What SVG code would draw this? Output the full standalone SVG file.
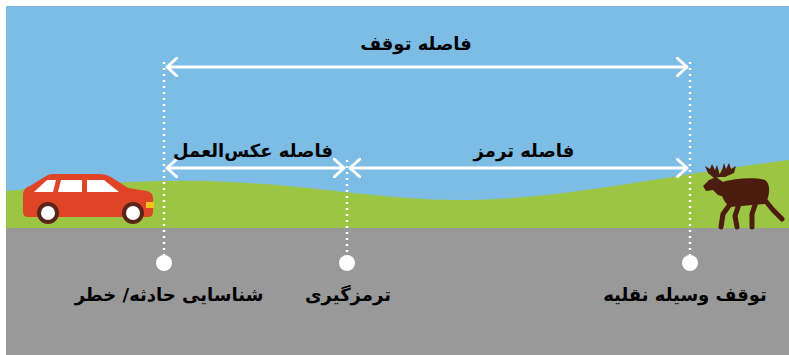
<svg xmlns="http://www.w3.org/2000/svg" width="789" height="355" viewBox="0 0 789 355">
  <style>
    .lbl { font-family: "DejaVu Sans", "Noto Sans", sans-serif; font-weight: bold; font-size: 18px; fill: #000; text-anchor: middle; }
    .dim { stroke: #ffffff; stroke-width: 3; fill: none; stroke-linecap: round; stroke-linejoin: round; }
    .dots { stroke: #ffffff; stroke-width: 2.5; stroke-dasharray: 2 4; fill: none; }
    .mark { fill: #ffffff; }
  </style>
  <defs>
    <marker id="head" viewBox="0 0 12 20" refX="11" refY="10" markerWidth="12" markerHeight="20" markerUnits="userSpaceOnUse" orient="auto-start-reverse">
      <path d="M1,1 L11,10 L1,19" fill="none" stroke="#ffffff" stroke-width="3" stroke-linecap="round" stroke-linejoin="round"/>
    </marker>
  </defs>

  <!-- scene: sky, grass, road -->
  <g id="scene">
    <rect x="6" y="6" width="783" height="349" fill="#7dbce4"/>
    <path d="M6,191 C80,185 150,178 230,182 C320,186 380,200 460,200 C560,200 650,178 789,160 L789,230 L6,230 Z" fill="#9dc544"/>
    <rect x="6" y="228" width="783" height="127" fill="#999999"/>
  </g>

  <!-- car -->
  <g id="car">
    <path d="M23,195 Q23,188 30,186 L46,176 Q49,174 53,174 L100,174 Q106,174 111,177 L128,188 L147,191 Q153,192 153,199 L153,212 Q153,217 148,217 L28,217 Q23,217 23,212 Z" fill="#e04427"/>
    <path d="M34,192 L47,180 L56,180 L53,192 Z" fill="#ffffff"/>
    <path d="M58,192 L61,180 L82,180 L82,192 Z" fill="#ffffff"/>
    <path d="M87,192 L87,180 L104,180 L119,192 Z" fill="#ffffff"/>
    <rect x="146" y="202" width="8" height="6" fill="#f7c21b"/>
    <circle cx="48" cy="213" r="11" fill="#5a2418"/>
    <circle cx="48" cy="213" r="7" fill="#ffffff"/>
    <circle cx="133" cy="213" r="11" fill="#5a2418"/>
    <circle cx="133" cy="213" r="7" fill="#ffffff"/>
  </g>

  <!-- moose -->
  <g id="moose" fill="#4b1d10" stroke="#4b1d10" stroke-linecap="round" stroke-linejoin="round">
    <path d="M722,182 C735,178 755,177 765,180 C771,184 770,196 765,204 L730,207 C723,202 719,192 722,182 Z" stroke="none"/>
    <path d="M723,182 L716,177 L709,180 L703,186 L706,191 L713,190 L718,195 L728,198 Z" stroke="none"/>
    <path d="M714,178 L708,173 L705,166 L710,169 L712,164 L715,170 L717,165 L719,172 L720,177 Z" stroke="none"/>
    <path d="M718,177 L722,170 L724,163 L726,169 L729,163 L731,169 L736,166 L734,173 L725,177 Z" stroke="none"/>
    <path d="M731,203 L723,214 L721,227" fill="none" stroke-width="5"/>
    <path d="M739,204 L735,216 L737,227" fill="none" stroke-width="5"/>
    <path d="M756,202 L752,214 L752,227" fill="none" stroke-width="5"/>
    <path d="M764,199 L773,210 L782,219" fill="none" stroke-width="5"/>
  </g>

  <!-- connectors: dotted guides and dimension arrows -->
  <g id="connectors">
    <line class="dots" x1="164" y1="62" x2="164" y2="255"/>
    <line class="dots" x1="347" y1="160" x2="347" y2="255"/>
    <line class="dots" x1="690" y1="62" x2="690" y2="255"/>
    <line class="dim" x1="167" y1="67" x2="687" y2="67" marker-start="url(#head)" marker-end="url(#head)"/>
    <line class="dim" x1="167" y1="168" x2="344" y2="168" marker-start="url(#head)" marker-end="url(#head)"/>
    <line class="dim" x1="350" y1="168" x2="687" y2="168" marker-start="url(#head)" marker-end="url(#head)"/>
  </g>

  <!-- event points -->
  <g id="p-detect">
    <circle class="mark" cx="164" cy="263" r="8"/>
    <text class="lbl" x="169" y="301">شناسایی حادثه/ خطر</text>
  </g>
  <g id="p-brake">
    <circle class="mark" cx="347" cy="263" r="8"/>
    <text class="lbl" x="348" y="301">ترمزگیری</text>
  </g>
  <g id="p-stop">
    <circle class="mark" cx="690" cy="263" r="8"/>
    <text class="lbl" x="685" y="301">توقف وسیله نقلیه</text>
  </g>

  <!-- distance labels -->
  <g id="d-stop">
    <text class="lbl" x="416" y="50">فاصله توقف</text>
  </g>
  <g id="d-reaction">
    <text class="lbl" x="253" y="157">فاصله عکس‌العمل</text>
  </g>
  <g id="d-brake">
    <text class="lbl" x="524" y="157">فاصله ترمز</text>
  </g>
</svg>
